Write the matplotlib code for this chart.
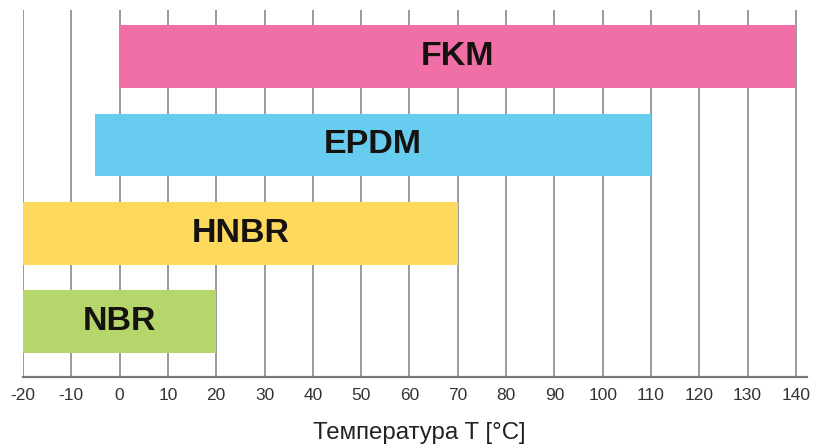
import matplotlib.pyplot as plt
import numpy as np

# materials, bottom to top
materials = ['NBR', 'HNBR', 'EPDM', 'FKM']
t_min = [-20, -20, -5, 0]
t_max = [20, 70, 110, 140]
bar_colors = ['#b5d66b', '#fdd95e', '#68ccf1', '#f06fa6']
ticks = np.arange(-20, 141, 10)

plt.rcParams['font.family'] = ['Liberation Sans', 'DejaVu Sans']

fig = plt.figure(figsize=(8.19, 4.46), dpi=100)
ax = fig.add_axes([23 / 819, 69 / 446, 784 / 819, 367 / 446])

y = np.arange(len(materials))
widths = np.array(t_max) - np.array(t_min)
ax.barh(y, widths, left=t_min, height=0.71, color=bar_colors, zorder=2)

for yi, name, lo, hi in zip(y, materials, t_min, t_max):
    ax.text((lo + hi) / 2, yi, name, ha='center', va='center',
            fontsize=24.5, fontweight='bold', color='#161210', zorder=3)

ax.set_xlim(-20, 142.3)
ax.set_ylim(-0.63, 3.53)
ax.set_xticks(ticks)
ax.set_xticklabels([str(t) for t in ticks], fontsize=12.5, color='#333333')
ax.tick_params(axis='x', length=0, pad=8)
ax.set_yticks([])

ax.grid(axis='x', color='#9a9a9a', linewidth=1.4, zorder=1)
ax.set_axisbelow(True)

for s in ['top', 'right', 'left']:
    ax.spines[s].set_visible(False)
ax.spines['bottom'].set_color('#777777')
ax.spines['bottom'].set_linewidth(1.6)

ax.set_xlabel('Температура T [°C]', fontsize=17.3, color='#222222')
ax.xaxis.label.set_va('center')
ax.xaxis.set_label_coords(0.506, -0.153)

fig.savefig('out.png', dpi=100)
